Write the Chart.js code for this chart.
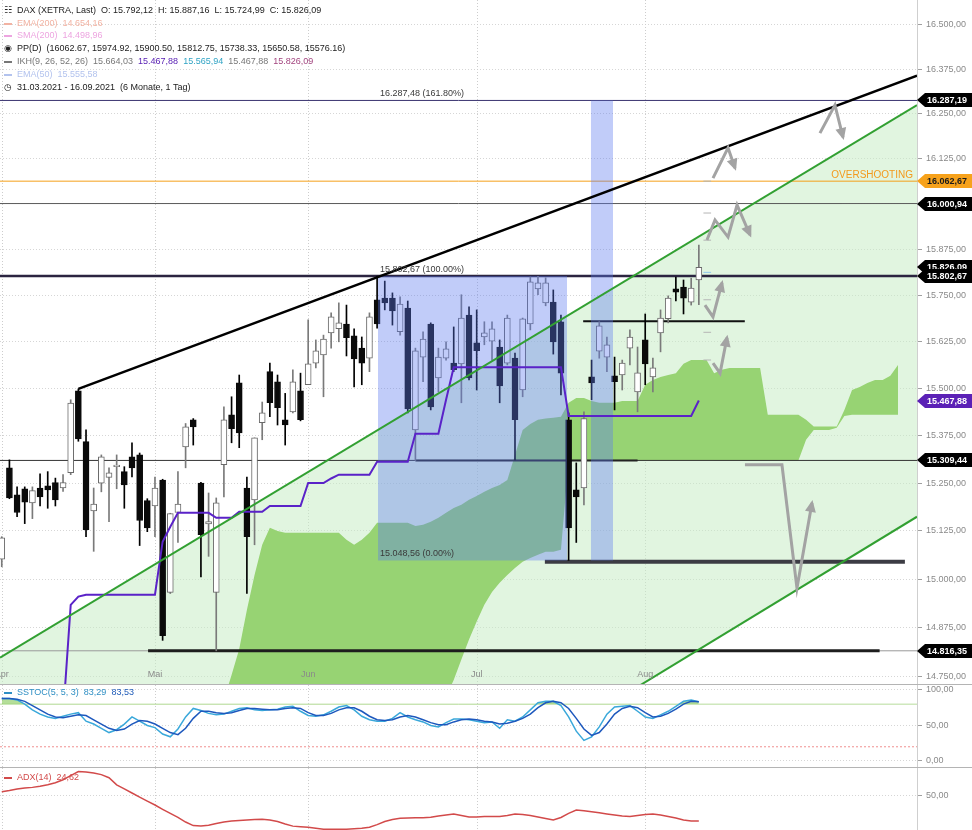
<!DOCTYPE html>
<html lang="de">
<head>
<meta charset="UTF-8">
<title>DAX (XETRA) Tageschart</title>
<script src="https://cdn.jsdelivr.net/npm/chart.js"></script>
<style>
    body { margin: 0; background: #fff; font-family: Arial, 'Liberation Sans', sans-serif; }
    #wrap { position: relative; width: 972px; height: 830px; overflow: hidden; background: #fff; }
    canvas { position: absolute; left: 0; }
    #cMain { top: 0; }
    #cStoch { top: 685px; }
    #cAdx { top: 768px; }
    .sep { position: absolute; left: 0; width: 972px; height: 1px; background: #b4b4b4; }
    .lg { position: absolute; left: 4px; font-size: 9px; line-height: 13px; white-space: nowrap; color: #222; }
    .ic { display: inline-block; width: 8px; height: 2px; margin-right: 5px; vertical-align: middle; }
    .sym { display: inline-block; width: 8px; margin-right: 5px; font-family: 'DejaVu Sans', sans-serif; font-size: 9px; text-align: center; }
</style>
</head>
<body>
<div id="wrap">
    <canvas id="cMain" width="972" height="684"></canvas>
    <canvas id="cStoch" width="972" height="82"></canvas>
    <canvas id="cAdx" width="972" height="62"></canvas>
    <div class="sep" style="top:684px"></div>
    <div class="sep" style="top:767px"></div>

    <div class="lg" id="lg1" style="top:4px"></div>
    <div class="lg" style="top:17px;color:#f2b3a3"><span class="ic" style="background:#f2b3a3"></span>EMA(200)&nbsp; 14.654,16</div>
    <div class="lg" style="top:29px;color:#eda5e0"><span class="ic" style="background:#eda5e0"></span>SMA(200)&nbsp; 14.498,96</div>
    <div class="lg" id="lg4" style="top:42px"></div>
    <div class="lg" style="top:55px;color:#777"><span class="ic" style="background:#777"></span>IKH(9, 26, 52, 26)&nbsp; 15.664,03&nbsp; <span style="color:#5a22b4">15.467,88</span>&nbsp; <span style="color:#2fa3c4">15.565,94</span>&nbsp; 15.467,88&nbsp; <span style="color:#a2457f">15.826,09</span></div>
    <div class="lg" style="top:68px;color:#b3c3ee"><span class="ic" style="background:#b3c3ee"></span>EMA(50)&nbsp; 15.555,58</div>
    <div class="lg" style="top:81px"><span class="sym">&#9719;</span>31.03.2021 - 16.09.2021&nbsp; (6 Monate, 1 Tag)</div>

    <div class="lg" style="top:686px;color:#2f8fc4"><span class="ic" style="background:#2f8fc4"></span>SSTOC(5, 5, 3)&nbsp; 83,29&nbsp; <span style="color:#1f5bb8">83,53</span></div>
    <div class="lg" style="top:771px;color:#d24a4a"><span class="ic" style="background:#d24a4a"></span>ADX(14)&nbsp; 24,62</div>
</div>

<script>
    // ---- data (bar 1 = 01.04.2021, bar 92 = 11.08.2021) ----
    const monthTicks = [1, 21, 41, 63, 85];
    const monthLabels = ['Apr', 'Mai', 'Jun', 'Jul', 'Aug'];

    const openP = [15052, 15290, 15219, 15235, 15198, 15237, 15243, 15251, 15237, 15277,
        15494, 15359, 15177, 15250, 15265, 15293, 15280, 15319, 15324, 15204,
        15190, 15258, 14966, 15173, 15345, 15417, 15250, 15143, 14966, 15298,
        15430, 15515, 15237, 15206, 15409, 15545, 15518, 15417, 15438, 15494,
        15510, 15568, 15590, 15649, 15660, 15673, 15641, 15608, 15581, 15738,
        15743, 15743, 15652, 15716, 15390, 15584, 15673, 15528, 15581, 15568,
        15566, 15697, 15622, 15638, 15627, 15611, 15568, 15581, 15496, 15673,
        15768, 15730, 15732, 15679, 15417, 15232, 15237, 15531, 15600, 15584,
        15534, 15536, 15608, 15491, 15630, 15531, 15649, 15687, 15768, 15773,
        15732, 15792.12];
    const highP = [15110, 15311, 15240, 15240, 15240, 15274, 15280, 15263, 15272, 15470,
        15499, 15390, 15237, 15324, 15290, 15324, 15293, 15356, 15329, 15209,
        15266, 15260, 15171, 15280, 15407, 15420, 15252, 15224, 15211, 15451,
        15478, 15536, 15266, 15369, 15464, 15568, 15536, 15487, 15550, 15541,
        15684, 15630, 15643, 15703, 15730, 15724, 15660, 15638, 15703, 15802.67,
        15789, 15757, 15746, 15735, 15608, 15652, 15676, 15608, 15625, 15665,
        15752, 15719, 15711, 15679, 15679, 15630, 15697, 15595, 15689, 15800,
        15802, 15798, 15765, 15697, 15435, 15303, 15438, 15576, 15679, 15638,
        15584, 15576, 15657, 15611, 15700, 15581, 15711, 15749, 15800, 15792,
        15797, 15887.16];
    const lowP = [15032, 15209, 15162, 15144, 15157, 15190, 15184, 15190, 15228, 15272,
        15360, 15110, 15072, 15227, 15149, 15235, 15184, 15266, 15087, 15123,
        15110, 14843, 14963, 15095, 15290, 15350, 15006, 15059, 14816.35, 15214,
        15356, 15343, 14963, 15089, 15364, 15425, 15403, 15350, 15435, 15414,
        15510, 15555, 15478, 15608, 15625, 15587, 15504, 15510, 15545, 15662,
        15711, 15670, 15643, 15435, 15309.44, 15518, 15443, 15491, 15576, 15545,
        15462, 15523, 15496, 15617, 15576, 15462, 15563, 15311, 15478, 15657,
        15752, 15722, 15592, 15483, 15048.56, 15095, 15193, 15470, 15581, 15545,
        15443, 15496, 15563, 15438, 15510, 15491, 15598, 15676, 15735, 15700,
        15724, 15724.99];
    const closeP = [15107, 15211, 15173, 15200, 15230, 15214, 15232, 15206, 15251, 15461,
        15366, 15128, 15195, 15319, 15277, 15297, 15245, 15290, 15152, 15133,
        15237, 14855, 15170, 15195, 15398, 15398, 15115, 15149, 15198, 15417,
        15393, 15382, 15110, 15369, 15435, 15462, 15449, 15403, 15518, 15417,
        15566, 15601, 15632, 15692, 15676, 15636, 15579, 15568, 15692, 15673,
        15730, 15708, 15727, 15446, 15601, 15632, 15451, 15584, 15606, 15550,
        15689, 15528, 15601, 15649, 15660, 15507, 15689, 15417, 15687, 15787,
        15784, 15784, 15625, 15541, 15133, 15214, 15420, 15515, 15668, 15617,
        15518, 15568, 15638, 15542, 15566, 15555, 15689, 15743, 15759, 15743,
        15770, 15826.09];

    // Kijun-sen, bars 9..92
    const kijunStart = 9;
    const kijun = [14650, 14934, 14955,
        14960, 14960, 14960, 14960, 14960, 14960, 14960, 14960, 14960, 14960,
        15097, 15136, 15172, 15172, 15172, 15172, 15172,
        15159, 15159, 15159, 15175, 15175, 15175, 15175,
        15190, 15190, 15190, 15190, 15190, 15250, 15250, 15250, 15262,
        15272, 15272, 15272, 15272, 15272, 15306, 15306, 15306, 15306, 15306,
        15380, 15380, 15380, 15380, 15470,
        15557, 15557, 15557, 15557, 15557, 15557, 15557, 15557, 15557, 15557, 15557, 15557, 15557, 15557, 15557,
        15427, 15427, 15427, 15427, 15427, 15427, 15427, 15427, 15427, 15427, 15427, 15427, 15427, 15427, 15427, 15427, 15427,
        15467.88];

    // Ichimoku cloud (Senkou spans), bars 30..118
    const cloudStart = 30;
    const cloudTop = [14692, 14755, 14821, 14921, 15011, 15089, 15133, 15125, 15120, 15120,
        15120, 15120, 15120, 15120, 15120, 15120, 15102, 15089, 15102, 15120,
        15146, 15146, 15146, 15146, 15146, 15138, 15141, 15149, 15159, 15172,
        15185, 15193, 15206, 15216, 15227, 15237, 15245, 15258, 15324, 15390,
        15406, 15417, 15420, 15422, 15425, 15462, 15475, 15475, 15467, 15462,
        15462, 15462, 15467, 15467, 15467, 15510, 15523, 15531, 15536, 15541,
        15566, 15576, 15576, 15576, 15541, 15550, 15555, 15555, 15555, 15555,
        15555, 15430, 15430, 15430, 15430, 15430, 15417, 15399, 15399, 15399,
        15399, 15443, 15496, 15504, 15515, 15523, 15523, 15534, 15563];
    const cloudBottom = [14600, 14600, 14600, 14600, 14600, 14600, 14600, 14600, 14600, 14600,
        14600, 14600, 14600, 14600, 14600, 14600, 14600, 14600, 14600, 14600,
        14600, 14600, 14600, 14600, 14600, 14600, 14600, 14600, 14600, 14700,
        14742, 14794, 14845, 14891, 14934, 14967, 14991, 15011, 15029, 15045,
        15055, 15063, 15071, 15071, 15076, 15309, 15309, 15309, 15309, 15309,
        15309, 15309, 15309, 15309, 15309, 15309, 15309, 15309, 15309, 15309,
        15309, 15309, 15309, 15309, 15309, 15309, 15309, 15309, 15309, 15309,
        15309, 15309, 15309, 15309, 15309, 15309, 15364, 15390, 15390, 15390,
        15396, 15427, 15430, 15430, 15430, 15430, 15430, 15430, 15430];

    // Slow stochastic %K / %D and ADX, bars 1..92
    const stochK = [88, 88, 86, 80, 72, 66, 62, 60, 63, 66,
        68, 56, 52, 46, 40, 44, 52, 62, 56, 50,
        47, 38, 34, 45, 62, 74, 71, 67, 65, 66,
        70, 74, 75, 72, 71, 72, 73, 76, 77, 70,
        64, 63, 65, 70, 76, 78, 72, 63, 58, 56,
        56, 60, 68, 62, 58, 55, 50, 48, 54, 59,
        59, 58, 56, 54, 55, 46, 58, 56, 62, 72,
        82, 84, 84, 78, 62, 42, 29, 34, 48, 66,
        76, 77, 78, 70, 62, 60, 65, 70, 77, 84,
        86, 83.29];
    const stochD = [88, 88, 87, 84, 78, 72, 66, 62, 61, 63,
        65, 64, 58, 52, 46, 43, 45, 52, 57, 56,
        52, 46, 40, 37, 46, 60, 70, 70, 68, 67,
        68, 71, 74, 74, 73, 72, 72, 74, 75, 74,
        68, 64, 64, 67, 72, 75, 75, 70, 63, 58,
        57, 58, 62, 64, 62, 58, 54, 51, 51, 55,
        58, 59, 58, 56, 55, 52, 53, 56, 60, 66,
        75, 82, 84, 82, 74, 60, 45, 36, 40, 52,
        66, 74, 77, 75, 68, 62, 63, 67, 73, 80,
        84, 83.53];
    const adx = [53.3, 54.5, 56, 57, 57.5, 58.5, 60, 62, 65, 69,
        73, 72.5, 71.5, 70, 67, 60, 56, 52, 48, 44,
        40.2, 36, 32, 28, 23.5, 20, 19.6, 20.3, 22, 23.5,
        24.5, 25, 25.5, 26, 26.2, 25.5, 24, 21.5, 19.5, 19,
        18.5, 17.5, 16.5, 16.4, 16.4, 16.5, 17, 17.5, 18.5, 21,
        24, 26, 27.2, 27.5, 27.8, 27.8, 28.1, 29.5, 30.5, 31.4,
        30, 28.5, 28.5, 29, 29, 29, 30, 31.4, 31, 30,
        28.5, 27, 25.5, 28, 32, 35.3, 34.5, 33.5, 32.5, 31.5,
        30.5, 29.5, 29, 30, 31, 31.5, 30.5, 29, 27.5, 25.5,
        24.5, 24.62];

    // drawn levels and tools
    const priceTicks = [14750, 14875, 15000, 15125, 15250, 15375, 15500, 15625, 15750, 15875, 16000, 16125, 16250, 16375, 16500];
    const fullLevels = [16287.19, 16062.67, 16000.94, 15802.67, 15309.44, 14816.35];
    const segLevels = [14816.35, 15045, 15680, 15309.44];
    const segFrom = [20.1, 71.9, 76.9, 55];
    const segTo = [115.6, 118.9, 98.0, 84.0];
    const pivots = [16062.67, 15974.92, 15900.50, 15812.75, 15738.33, 15650.58, 15576.16];
    const tagValues = [16287.19, 16062.67, 16000.94, 15826.09, 15802.67, 15467.88, 15309.44, 14816.35];
    const fibLevels = [16287.48, 15802.67, 15048.56];
    const fibPct = ['161.80%', '100.00%', '0.00%'];
    const fibBox = { from: 50.1, to: 74.8, top: 15802.67, bottom: 15048.56 };
    const band = { from: 77.9, to: 80.8, top: 16287.19, bottom: 15048.56 };
    const channelUpper = [[0.77, 14799], [120.48, 16274]];
    const channelLower = [[0.77, 13774], [120.48, 15162]];
    const trendBlack = [[11, 15499], [120.48, 16357]];
    const arrows = [
        [[92.8, 15724], [93.85, 15692], [95.02, 15784]],
        [[93.85, 15568], [94.77, 15541], [95.67, 15636]],
        [[93.06, 15901], [94.11, 15956], [95.81, 15909], [96.99, 15997], [98.68, 15915]],
        [[93.85, 16071], [95.81, 16155], [96.72, 16099]],
        [[107.81, 16196], [109.77, 16274], [110.82, 16185]],
        [[98.02, 15298], [102.85, 15298], [104.81, 14977], [106.77, 15198]]
    ];

    const X_MIN = 0.77, X_MAX = 120.48;
    const FONT = 'Arial, "Liberation Sans", sans-serif';

    const fmt = v => {
        const parts = v.toFixed(2).split('.');
        return parts[0].replace(/\B(?=(\d{3})+(?!\d))/g, '.') + ',' + parts[1];
    };

    const bars = closeP.map((c, i) => i + 1);
    const last = closeP.length - 1;

    document.getElementById('lg1').innerHTML =
        '<span class="sym">&#9783;</span>DAX (XETRA, Last)&nbsp; O: ' + fmt(openP[last]) +
        '&nbsp; H: ' + fmt(highP[last]) + '&nbsp; L: ' + fmt(lowP[last]) + '&nbsp; C: ' + fmt(closeP[last]);
    document.getElementById('lg4').innerHTML =
        '<span class="sym">&#9673;</span>PP(D)&nbsp; (' + pivots.map(p => p.toFixed(2)).join(', ') + ')';

    Chart.defaults.font.family = FONT;
    Chart.defaults.font.size = 9;

    function line(points, color, width, order, extra) {
        return Object.assign({
            type: 'line',
            data: points.map(p => ({ x: p[0], y: p[1] })),
            borderColor: color, borderWidth: width,
            pointRadius: 0, tension: 0, fill: false, order: order
        }, extra || {});
    }

    function yAxis(ticks, min, max, type) {
        return {
            type: type || 'linear', position: 'right', min: min, max: max,
            afterBuildTicks: s => { s.ticks = ticks.map(v => ({ value: v })); },
            afterFit: s => { s.width = 55; s.paddingTop = 0; s.paddingBottom = 0; },
            ticks: { autoSkip: false, color: '#8a8a8a', padding: 4, callback: v => fmt(v) },
            grid: { color: '#d6d6d6', tickLength: 5, tickColor: '#a0a0a0' },
            border: { color: '#cfcfcf', dash: [1, 2] }
        };
    }

    const monthGrid = {
        id: 'monthGrid',
        beforeDatasetsDraw(chart) {
            const { ctx, chartArea: a, scales: { x } } = chart;
            ctx.save();
            ctx.strokeStyle = '#cdcdcd';
            ctx.setLineDash([1, 2]);
            monthTicks.forEach(t => {
                const px = Math.round(x.getPixelForValue(t)) + 0.5;
                ctx.beginPath(); ctx.moveTo(px, a.top); ctx.lineTo(px, a.bottom); ctx.stroke();
            });
            ctx.restore();
        }
    };

    const mainDecor = {
        id: 'mainDecor',
        afterDatasetsDraw(chart) {
            const { ctx, scales: { x, y } } = chart;
            ctx.save();
            // arrow heads
            chart.data.datasets.forEach((ds, i) => {
                if (!ds.arrow) return;
                const pts = chart.getDatasetMeta(i).data;
                const p1 = pts[pts.length - 2], p2 = pts[pts.length - 1];
                const ang = Math.atan2(p2.y - p1.y, p2.x - p1.x);
                ctx.save();
                ctx.translate(p2.x, p2.y);
                ctx.rotate(ang);
                ctx.fillStyle = ds.borderColor;
                ctx.beginPath();
                ctx.moveTo(3, 0); ctx.lineTo(-9, -5.5); ctx.lineTo(-9, 5.5);
                ctx.closePath(); ctx.fill();
                ctx.restore();
            });
            // fib labels
            ctx.font = '9px ' + FONT;
            ctx.fillStyle = '#3a3a3a';
            ctx.textAlign = 'left';
            ctx.textBaseline = 'alphabetic';
            fibLevels.forEach((v, i) => {
                ctx.fillText(fmt(v) + ' (' + fibPct[i] + ')', x.getPixelForValue(fibBox.from) + 2, y.getPixelForValue(v) - 4);
            });
            ctx.font = '10px ' + FONT;
            ctx.fillStyle = '#f39a1c';
            ctx.textAlign = 'right';
            ctx.fillText('OVERSHOOTING', chart.chartArea.right - 4, y.getPixelForValue(fullLevels[1]) - 3);
            ctx.restore();
        },
        afterDraw(chart) {
            const { ctx, chartArea: a, scales: { x, y } } = chart;
            ctx.save();
            ctx.font = '9px ' + FONT;
            ctx.fillStyle = '#8a8a8a';
            ctx.textAlign = 'center';
            ctx.textBaseline = 'middle';
            monthTicks.forEach((t, i) => ctx.fillText(monthLabels[i], x.getPixelForValue(t), a.bottom - 9));
            const bg = ['#000', '#f7a21b', '#000', '#000', '#000', '#5b21b6', '#000', '#000'];
            const fg = ['#fff', '#1a1a1a', '#fff', '#fff', '#fff', '#fff', '#fff', '#fff'];
            ctx.font = 'bold 9px ' + FONT;
            ctx.textAlign = 'left';
            tagValues.forEach((v, i) => {
                const py = Math.round(y.getPixelForValue(v));
                const L = a.right;
                ctx.fillStyle = bg[i];
                ctx.beginPath();
                ctx.moveTo(L, py); ctx.lineTo(L + 8, py - 7); ctx.lineTo(chart.width, py - 7);
                ctx.lineTo(chart.width, py + 7); ctx.lineTo(L + 8, py + 7);
                ctx.closePath(); ctx.fill();
                ctx.fillStyle = fg[i];
                ctx.fillText(fmt(v), L + 10, py + 0.5);
            });
            ctx.restore();
        }
    };

    // ---- main price chart ----
    const up = closeP.map((c, i) => c >= openP[i]);
    const ds = [];
    ds.push(line(channelUpper, 'rgba(0,0,0,0)', 0, 100, { fill: 1, backgroundColor: 'rgba(200,236,198,0.55)' }));
    ds.push(line(channelLower, 'rgba(0,0,0,0)', 0, 100));
    ds.push(line(cloudTop.map((v, i) => [cloudStart + i, v]), 'rgba(0,0,0,0)', 0, 95, { fill: 3, backgroundColor: '#97d373' }));
    ds.push(line(cloudBottom.map((v, i) => [cloudStart + i, v]), 'rgba(0,0,0,0)', 0, 95));

    const levelColors = ['#3a3470', '#f5a01a', '#5a5a5a', '#2b2440', '#333', '#9a9a9a'];
    const levelWidths = [1, 1, 1, 2.5, 1, 1];
    fullLevels.forEach((v, i) => ds.push(line([[X_MIN, v], [X_MAX, v]], levelColors[i], levelWidths[i], 60)));
    const segColors = ['#1e1e1e', '#3c3c44', '#111', '#222'];
    const segWidths = [3, 4, 2, 2];
    segLevels.forEach((v, i) => ds.push(line([[segFrom[i], v], [segTo[i], v]], segColors[i], segWidths[i], 58)));

    ds.push({
        type: 'bar', order: 50, grouped: false, barThickness: 1,
        data: bars.map((b, i) => ({ x: b, y: [lowP[i], highP[i]] })),
        backgroundColor: up.map(u => u ? '#7a7a7a' : '#000')
    });
    ds.push({
        type: 'bar', order: 49, grouped: false, barThickness: 6, minBarLength: 1,
        borderWidth: 1, borderSkipped: false,
        data: bars.map((b, i) => ({ x: b, y: [Math.min(openP[i], closeP[i]), Math.max(openP[i], closeP[i])] })),
        backgroundColor: up.map(u => u ? '#ffffff' : '#0a0a0a'),
        borderColor: up.map(u => u ? '#6a6a6a' : '#0a0a0a')
    });

    ds.push(line([[fibBox.from, fibBox.top], [fibBox.to, fibBox.top]], 'rgba(0,0,0,0)', 0, 40,
        { fill: { value: fibBox.bottom }, backgroundColor: 'rgba(92,122,240,0.38)' }));
    ds.push(line([[band.from, band.top], [band.to, band.top]], 'rgba(0,0,0,0)', 0, 40,
        { fill: { value: band.bottom }, backgroundColor: 'rgba(92,122,240,0.38)' }));

    pivots.forEach((v, i) => ds.push(line([[92.6, v], [93.6, v]], i === 3 ? '#8ec6ec' : '#b4b4b4', 1, 35)));

    ds.push(line(kijun.map((v, i) => [kijunStart + i, v]), '#5a22c8', 2, 30));
    ds.push(line(channelUpper, '#32a032', 2, 20));
    ds.push(line(channelLower, '#32a032', 2, 20));
    ds.push(line(trendBlack, '#000', 2.5, 20));
    arrows.forEach(a => ds.push(line(a, '#a3a3a3', 3, 10, { arrow: true })));

    new Chart(document.getElementById('cMain'), {
        type: 'line',
        data: { datasets: ds },
        options: {
            responsive: false, animation: false,
            layout: { padding: 0 },
            plugins: { legend: { display: false }, tooltip: { enabled: false } },
            scales: {
                x: { type: 'linear', min: X_MIN, max: X_MAX, display: false, offset: false },
                y: yAxis(priceTicks, 14732, 16571, 'logarithmic')
            }
        },
        plugins: [monthGrid, mainDecor]
    });

    // ---- slow stochastic ----
    new Chart(document.getElementById('cStoch'), {
        type: 'line',
        data: {
            datasets: [
                line(stochK.map((v, i) => [bars[i], v]), '#3aa8da', 1.5, 2,
                    { fill: { target: { value: 80 }, above: 'rgba(150,208,110,0.7)', below: 'rgba(0,0,0,0)' } }),
                line(stochD.map((v, i) => [bars[i], v]), '#1d58bd', 1.5, 1),
                line([[X_MIN, 80], [X_MAX, 80]], '#b6dc9c', 1, 5),
                line([[X_MIN, 20], [X_MAX, 20]], '#f09090', 1, 5, { borderDash: [2, 2] })
            ]
        },
        options: {
            responsive: false, animation: false,
            layout: { padding: 0 },
            plugins: { legend: { display: false }, tooltip: { enabled: false } },
            scales: {
                x: { type: 'linear', min: X_MIN, max: X_MAX, display: false },
                y: yAxis([0, 50, 100], -8.5, 107)
            }
        },
        plugins: [monthGrid]
    });

    // ---- ADX ----
    new Chart(document.getElementById('cAdx'), {
        type: 'line',
        data: { datasets: [line(adx.map((v, i) => [bars[i], v]), '#d24a4a', 1.5, 1)] },
        options: {
            responsive: false, animation: false,
            layout: { padding: 0 },
            plugins: { legend: { display: false }, tooltip: { enabled: false } },
            scales: {
                x: { type: 'linear', min: X_MIN, max: X_MAX, display: false },
                y: yAxis([50], 15.7, 76.5)
            }
        },
        plugins: [monthGrid]
    });
</script>
</body>
</html>
